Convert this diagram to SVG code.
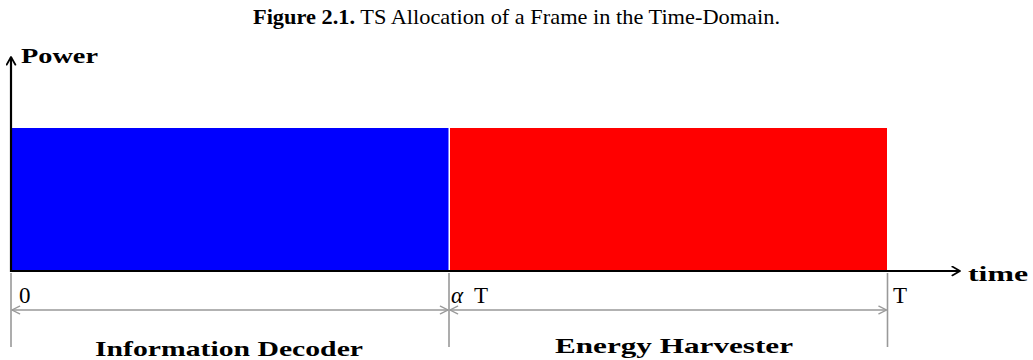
<svg xmlns="http://www.w3.org/2000/svg" width="1033" height="360" viewBox="0 0 1033 360">
<style>
text{font-family:"Liberation Serif","DejaVu Serif",serif;font-size:21px;fill:#000}
.b{font-weight:bold}
.lbl{font-size:23px}
.axis{stroke:#000;stroke-width:2.2;fill:none}
.dim{stroke:#999;stroke-width:1.6;fill:none}
</style>
<defs>
<marker id="ah" viewBox="0 0 10 10" refX="8" refY="5" markerWidth="5" markerHeight="5" orient="auto" markerUnits="strokeWidth">
<path d="M1,1 L8,5 L1,9" fill="none" stroke="#000" stroke-width="1.6" stroke-linecap="round" stroke-linejoin="round"/>
</marker>
<marker id="gh" viewBox="0 0 10 10" refX="9" refY="5" markerWidth="6" markerHeight="6" orient="auto-start-reverse" markerUnits="strokeWidth">
<path d="M1,1 L9,5 L1,9" fill="none" stroke="#999" stroke-width="1.3" stroke-linecap="round"/>
</marker>
</defs>
<text x="253" y="24" textLength="527" lengthAdjust="spacingAndGlyphs"><tspan class="b">Figure 2.1.</tspan> TS Allocation of a Frame in the Time-Domain.</text>
<g id="info-decoder">
<rect x="11" y="128" width="437.5" height="143" fill="#0000ff"/>
</g>
<g id="energy-harvester">
<rect x="450" y="128" width="437" height="143" fill="#ff0000"/>
</g>
<g id="connectors">
<line class="axis" x1="11" y1="272" x2="11" y2="57" marker-end="url(#ah)"/>
<line class="axis" x1="10" y1="271" x2="960" y2="271" marker-end="url(#ah)"/>
<line class="dim" x1="11" y1="273" x2="11" y2="347"/>
<line class="dim" x1="449" y1="273" x2="449" y2="347"/>
<line class="dim" x1="887.5" y1="273" x2="887.5" y2="347"/>
<line class="dim" x1="12" y1="310" x2="448" y2="310" marker-start="url(#gh)" marker-end="url(#gh)"/>
<line class="dim" x1="450" y1="310" x2="886.5" y2="310" marker-start="url(#gh)" marker-end="url(#gh)"/>
</g>
<text class="b" x="21" y="63" textLength="77" lengthAdjust="spacingAndGlyphs">Power</text>
<text class="b" x="968" y="281" textLength="60" lengthAdjust="spacingAndGlyphs">time</text>
<text class="lbl" x="19" y="303">0</text>
<text class="lbl" x="451" y="303"><tspan font-style="italic">α</tspan><tspan x="474">T</tspan></text>
<text class="lbl" x="893" y="303">T</text>
<text class="b" x="95" y="356" textLength="268" lengthAdjust="spacingAndGlyphs">Information Decoder</text>
<text class="b" x="555" y="353" textLength="238" lengthAdjust="spacingAndGlyphs">Energy Harvester</text>
</svg>
